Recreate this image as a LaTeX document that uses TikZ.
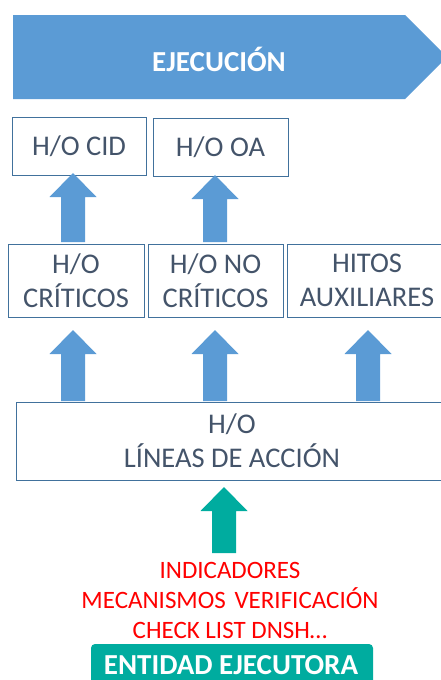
\documentclass[tikz,border=0pt]{standalone}
\usepackage{fontspec}
\setmainfont{Carlito}
\definecolor{blu}{HTML}{5B9BD5}
\definecolor{bord}{HTML}{41719C}
\definecolor{txt}{HTML}{44546A}
\definecolor{teal}{HTML}{00AC9F}
\tikzset{
  hobox/.style={draw=bord, line width=0.9pt, text=txt, align=center, inner sep=0pt, font=\fontsize{28.5}{34}\selectfont},
}
\newcommand{\blockup}[4]{% color, xcenter, ytop, ybottom
  \fill[#1] (#2-23.5,#3+24) -- (#2,#3) -- (#2+23.5,#3+24) -- (#2+12,#3+24) -- (#2+12,#4) -- (#2-12,#4) -- (#2-12,#3+24) -- cycle;}
\begin{document}
\begin{tikzpicture}[x=1pt,y=-1pt]
\useasboundingbox (0,0) rectangle (440,680);
% banner
\fill[blu] (13,15) -- (405,15) -- (447,57) -- (405,99) -- (13,99) -- cycle;
\node[text=white, font=\fontsize{29}{30}\selectfont\bfseries] (banner) at (219,59) {EJECUCIÓN};
% top row
\node[hobox, minimum width=134pt, minimum height=58pt] (cid) at (79,146) {H/O CID};
\node[hobox, minimum width=135pt, minimum height=58pt] (oa) at (220.5,147) {H/O OA};
% second row
\node[hobox, minimum width=136pt, minimum height=73pt] (crit) at (76,280.5) {H/O\\CRÍTICOS};
\node[hobox, minimum width=135pt, minimum height=73pt] (nocrit) at (215.5,280.5) {H/O NO\\CRÍTICOS};
\node[hobox, minimum width=160pt, minimum height=73pt] (hitos) at (367,280.5) {HITOS\\AUXILIARES};
% lineas
\node[hobox, minimum width=432pt, minimum height=78pt] (lineas) at (232,441) {H/O\\LÍNEAS DE ACCIÓN};
% arrows
\blockup{blu}{73}{173}{242}
\blockup{blu}{215}{175}{242}
\blockup{blu}{73}{330}{401}
\blockup{blu}{215}{330}{401}
\blockup{blu}{368}{330}{401}
\blockup{teal}{224}{487}{553}
% red text
\node[text=red, align=center, font=\fontsize{25}{30}\selectfont] (ind) at (230,600) {INDICADORES\\MECANISMOS\hspace{3pt} VERIFICACIÓN\\CHECK LIST DNSH…};
% entidad
\fill[teal, rounded corners=4pt] (91,644) rectangle (373,700);
\node[text=white, inner sep=0pt, font=\fontsize{29}{30}\selectfont\bfseries] (ent) at (231,665) {ENTIDAD EJECUTORA};
\end{tikzpicture}
\end{document}
